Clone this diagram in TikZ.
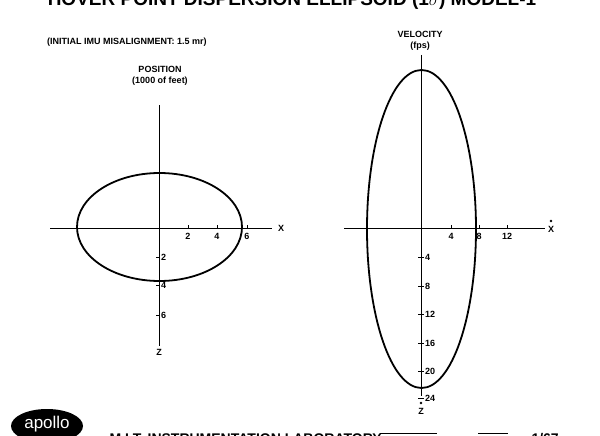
\documentclass[tikz,border=0pt]{standalone}
\usepackage{fontspec}
\setmainfont{Liberation Sans}
\begin{document}
\begin{tikzpicture}[x=1pt,y=-1pt,
  lbl/.style={font=\fontsize{9}{10}\selectfont\bfseries,inner sep=0pt},
  ax/.style={line width=0.8pt},
  el/.style={line width=1.8pt}]
\useasboundingbox (0,0) rectangle (600,436);
\clip (0,0) rectangle (600,436);
% title
\node[font=\fontsize{19}{20}\selectfont\bfseries,anchor=center] (title) at (292,1) {HOVER POINT DISPERSION ELLIPSOID (1$\sigma$) MODEL-1};
\node[lbl,anchor=west] (init) at (47,42) {(INITIAL IMU MISALIGNMENT: 1.5 mr)};
\node[lbl] (pos) at (160,69) {POSITION};
\node[lbl] (posu) at (160,81) {(1000 of feet)};
\node[lbl] (vel) at (420,34) {VELOCITY};
\node[lbl] (velu) at (420,46) {(fps)};
% left plot
\draw[ax] (50,228) -- (272,228);
\draw[ax] (159,105) -- (159,346);
\draw[el] (159.5,227) ellipse [x radius=82.5, y radius=54];
\node[lbl] (X1) at (281,228) {X};
\node[lbl] (Z1) at (159,352) {Z};
\foreach \xx/\t in {188/2,217/4,247/6}{
  \draw[ax] (\xx,225) -- (\xx,228);
  \node[lbl] at (\xx,236) {\t};}
\foreach \yy/\t in {257/2,285/4,315/6}{
  \draw[ax] (156,\yy) -- (159,\yy);
  \node[lbl,anchor=west] at (161,\yy) {\t};}
% right plot
\draw[ax] (344,228) -- (545,228);
\draw[ax] (421,55) -- (421,396);
\draw[el] (421.5,229) ellipse [x radius=54.5, y radius=159];
\node[lbl] (X2) at (551,229) {X};
\fill (551,221) circle (1.4);
\node[lbl] (Z2) at (421,411) {Z};
\fill (421,403) circle (1.4);
\foreach \xx/\t in {451/4,479/8,507/12}{
  \draw[ax] (\xx,225) -- (\xx,228);
  \node[lbl] at (\xx,236) {\t};}
\foreach \yy/\t in {257/4,286/8,314/12,343/16,371/20,398/24}{
  \draw[ax] (418,\yy) -- (424,\yy);
  \node[lbl,anchor=west] at (425,\yy) {\t};}
% footer
\fill (47,426) ellipse [x radius=36, y radius=17];
\node[font=\fontsize{17}{18}\selectfont,text=white] (apollo) at (47,424) {apollo};
\node[font=\fontsize{14}{15}\selectfont\bfseries,anchor=west] (mit) at (106,439) {M.I.T. INSTRUMENTATION LABORATORY};
\draw[line width=0.8pt] (380,433) -- (437,433);
\draw[line width=0.8pt] (478,433) -- (508,433);
\node[font=\fontsize{14}{15}\selectfont\bfseries,anchor=west] (num) at (528,439) {1/67};
\end{tikzpicture}
\end{document}
